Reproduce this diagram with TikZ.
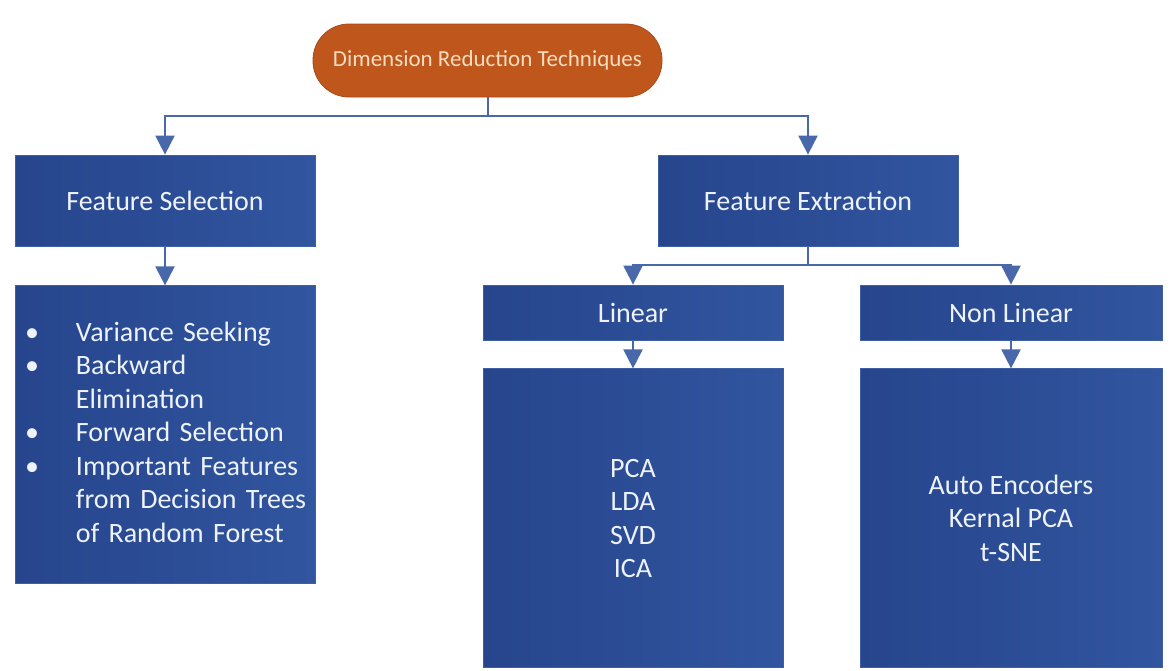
\documentclass[tikz,border=0pt]{standalone}
\usepackage{fontspec}
\setmainfont{Carlito}
\usepackage{xcolor}
\usetikzlibrary{arrows.meta,positioning}
\definecolor{boxdark}{HTML}{26458D}
\definecolor{boxlight}{HTML}{31559F}
\definecolor{boxedge}{HTML}{3E5FA3}
\definecolor{boxtext}{HTML}{EEF2FA}
\definecolor{rootfill}{HTML}{BF561C}
\definecolor{rootedge}{HTML}{A94A16}
\definecolor{roottext}{HTML}{F7DDBF}
\definecolor{linkblue}{HTML}{4868AA}

\begin{document}
\begin{tikzpicture}[x=1pt,y=-1pt,>={Triangle[length=19pt,width=19pt]},
  box/.style={draw=boxedge,line width=0.8pt,left color=boxdark,right color=boxlight,
    text=boxtext,inner sep=0pt,align=center,font=\fontsize{28}{33.5}\selectfont},
  arr/.style={->,draw=linkblue,line width=2pt}]
\useasboundingbox (0,0) rectangle (1173,670);
\node[draw=rootedge,line width=0.8pt,fill=rootfill,text=roottext,rounded corners=36pt,
  minimum width=349pt,minimum height=73pt,inner sep=0pt,font=\fontsize{23}{27}\selectfont]
  (dr) at (487.5,60.5) {Dimension Reduction Techniques};
\node[box,minimum width=300pt,minimum height=91pt] (fs) at (165,200.5) {Feature Selection};
\node[box,minimum width=300pt,minimum height=91pt] (fe) at (808,200.5) {Feature Extraction};
\node[box,minimum width=300pt,minimum height=298pt,text width=280pt,inner xsep=10pt,align=left,
  below=39pt of fs] (fsl) {%
  \begin{tabular}{@{}p{51pt}@{}l@{}}
  \textbullet & Variance Seeking\\
  \textbullet & Backward\\
              & Elimination\\
  \textbullet & Forward Selection\\
  \textbullet & Important Features\\
              & from Decision Trees\\
              & of Random Forest
  \end{tabular}};
\node[box,minimum width=300pt,minimum height=55pt] (lin) at (633,312.5) {Linear};
\node[box,minimum width=302pt,minimum height=55pt] (nonlin) at (1011,312.5) {Non Linear};
\node[box,minimum width=300pt,minimum height=299pt,below=28pt of lin] (linm) {PCA\\LDA\\SVD\\ICA};
\node[box,minimum width=302pt,minimum height=299pt,below=28pt of nonlin] (nlm) {Auto Encoders\\Kernal PCA\\t-SNE};
% connectors
\draw[arr] (dr.south) -- ++(0,19) -| (fs.north);
\draw[arr] (dr.south) -- ++(0,19) -| (fe.north);
\draw[arr] (fs) -- (fsl);
\draw[arr] (fe.south) -- ++(0,19) -| (lin.north);
\draw[arr] (fe.south) -- ++(0,19) -| (nonlin.north);
\draw[arr] (lin) -- (linm);
\draw[arr] (nonlin) -- (nlm);
\end{tikzpicture}
\end{document}
